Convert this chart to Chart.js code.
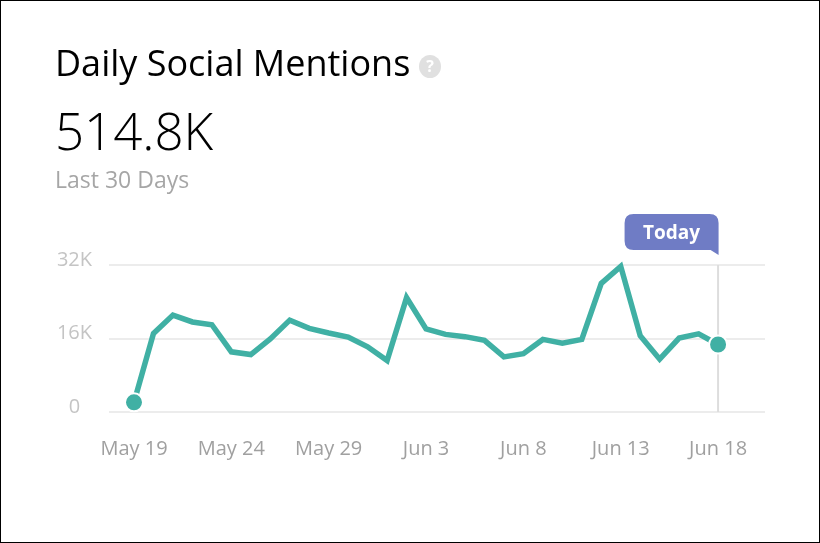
<!DOCTYPE html>
<html>
<head>
<meta charset="utf-8">
<title>Daily Social Mentions</title>
<script src="https://cdn.jsdelivr.net/npm/chart.js@4/dist/chart.umd.min.js"></script>
<style>
    html, body { margin: 0; padding: 0; background: #fff; }
    .card {
        position: relative; width: 820px; height: 543px; box-sizing: border-box;
        border: 1px solid #000; overflow: hidden;
        font-family: "Open Sans", sans-serif;
    }
    .card canvas { position: absolute; left: -1px; top: -1px; }
    .title { position: absolute; left: 54px; top: 39px; font-size: 36px; line-height: 46px; color: #000; white-space: nowrap; }
    .help {
        position: absolute; left: 418px; top: 54px; width: 22px; height: 23px; border-radius: 50%;
        background: #e0e0e0; color: #fff; font-size: 16px; font-weight: 700; line-height: 23px; text-align: center;
    }
    .total { position: absolute; left: 54px; top: 94px; font-size: 51px; line-height: 70px; font-weight: 300; color: #000; white-space: nowrap; }
    .period { position: absolute; left: 54px; top: 164px; font-size: 23px; line-height: 29px; color: #a6a6a6; white-space: nowrap; }
</style>
</head>
<body>
<div class="card">
    <canvas id="cMentions" width="820" height="543"></canvas>
    <div class="title">Daily Social Mentions</div>
    <div class="help">?</div>
    <div class="total">514.8K</div>
    <div class="period">Last 30 Days</div>
</div>
<script>
// Daily counts, May 19 to Jun 18
const days = ['May 19', 'May 20', 'May 21', 'May 22', 'May 23', 'May 24', 'May 25', 'May 26', 'May 27', 'May 28',
    'May 29', 'May 30', 'May 31', 'Jun 1', 'Jun 2', 'Jun 3', 'Jun 4', 'Jun 5', 'Jun 6', 'Jun 7', 'Jun 8',
    'Jun 9', 'Jun 10', 'Jun 11', 'Jun 12', 'Jun 13', 'Jun 14', 'Jun 15', 'Jun 16', 'Jun 17', 'Jun 18'];
const mentions = [2100, 17100, 21100, 19600, 19000, 13100, 12500, 15900, 20000, 18200,
    17200, 16300, 14200, 11200, 24900, 18100, 16900, 16400, 15600, 12000, 12700,
    15800, 15000, 15800, 28000, 31700, 16600, 11500, 16100, 17000, 14700];
const yTicks = [0, 16000, 32000];
const xTickEvery = 5;
const calloutText = 'Today';

const TEAL = '#40b0a4';
const lastIdx = days.length - 1;

// Marker line on the last day plus the "Today" flag above it
const todayFlag = {
    id: 'todayFlag',
    beforeDatasetsDraw(chart) {
        const { ctx, scales: { x, y } } = chart;
        const px = x.getPixelForValue(lastIdx);
        ctx.save();
        ctx.strokeStyle = '#dddddd';
        ctx.lineWidth = 2;
        ctx.beginPath();
        ctx.moveTo(px, y.getPixelForValue(32000));
        ctx.lineTo(px, y.getPixelForValue(0));
        ctx.stroke();
        ctx.restore();
    },
    afterDatasetsDraw(chart) {
        const { ctx, scales: { x, y } } = chart;
        const right = x.getPixelForValue(lastIdx) + 0.5;
        const bottom = y.getPixelForValue(32000) - 15;
        const top = bottom - 36, left = right - 94, r = 9;
        ctx.save();
        ctx.fillStyle = '#6f7cc5';
        ctx.beginPath();
        ctx.moveTo(left + r, top);
        ctx.lineTo(right - r, top);
        ctx.quadraticCurveTo(right, top, right, top + r);
        ctx.lineTo(right, bottom + 5);
        ctx.lineTo(right - 8, bottom);
        ctx.lineTo(left + r, bottom);
        ctx.quadraticCurveTo(left, bottom, left, bottom - r);
        ctx.lineTo(left, top + r);
        ctx.quadraticCurveTo(left, top, left + r, top);
        ctx.closePath();
        ctx.fill();
        ctx.fillStyle = '#fff';
        ctx.font = '700 19px "Open Sans"';
        ctx.textAlign = 'center';
        ctx.textBaseline = 'middle';
        ctx.fillText(calloutText, left + 47, top + 20);
        ctx.restore();
    }
};

new Chart(document.getElementById('cMentions').getContext('2d'), {
    type: 'line',
    data: {
        datasets: [{
            data: mentions.map((v, i) => ({ x: i, y: v })),
            borderColor: TEAL,
            borderWidth: 5.5,
            borderJoinStyle: 'miter',
            tension: 0,
            fill: false,
            pointBackgroundColor: TEAL,
            pointBorderColor: '#fff',
            pointBorderWidth: 2,
            pointRadius: c => (c.dataIndex === 0 || c.dataIndex === lastIdx ? 9 : 0),
            pointHoverRadius: 0
        }]
    },
    plugins: [todayFlag],
    options: {
        responsive: false,
        animation: false,
        clip: false,
        layout: { padding: { left: 0, top: 265, right: 55, bottom: 71 } },
        plugins: { legend: { display: false }, tooltip: { enabled: false } },
        scales: {
            x: {
                type: 'linear',
                min: -1.284,
                max: 32.41,
                afterBuildTicks: axis => {
                    axis.ticks = days.map((d, i) => ({ value: i })).filter(t => t.value % xTickEvery === 0);
                },
                afterFit: axis => { axis.height = 60; },
                border: { display: false },
                grid: { display: false },
                ticks: {
                    autoSkip: false,
                    maxRotation: 0,
                    padding: 17,
                    color: '#a0a0a0',
                    font: { family: '"Open Sans"', size: 20 },
                    callback: v => days[v]
                }
            },
            y: {
                min: 0,
                max: 32000,
                afterBuildTicks: axis => { axis.ticks = yTicks.map(v => ({ value: v })); },
                afterFit: axis => { axis.width = 109; },
                border: { display: false },
                grid: { color: '#ececec', lineWidth: 2, drawTicks: false },
                ticks: {
                    padding: 17,
                    crossAlign: 'center',
                    labelOffset: -5,
                    color: '#c4c4c4',
                    font: { family: '"Open Sans"', size: 20 },
                    callback: v => (v === 0 ? '0' : (v / 1000) + 'K')
                }
            }
        }
    }
});
</script>
</body>
</html>
